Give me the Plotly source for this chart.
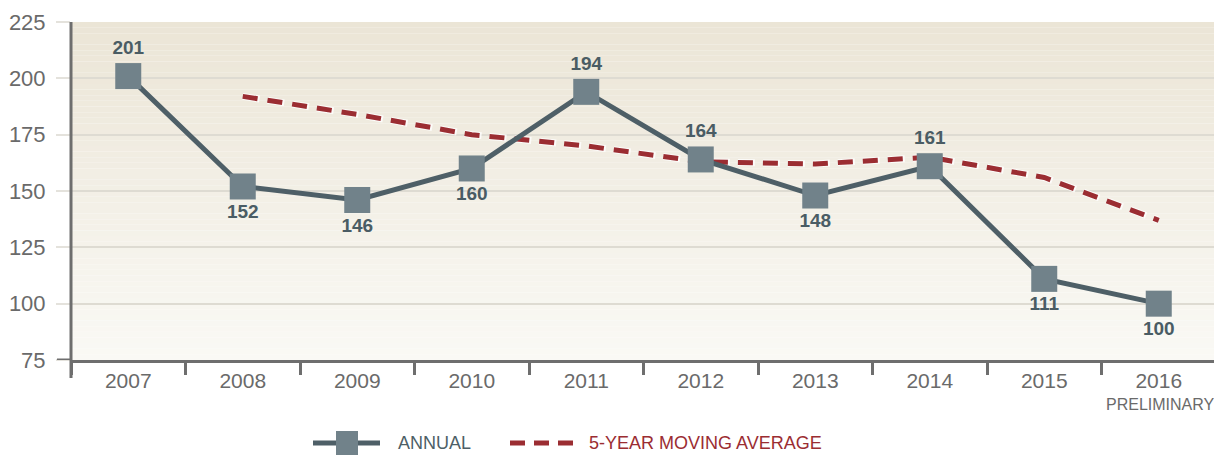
import plotly.graph_objects as go

years = ["2007", "2008", "2009", "2010", "2011", "2012", "2013", "2014", "2015", "2016"]
tick_text = ["2007", "2008", "2009", "2010", "2011", "2012", "2013", "2014", "2015", "2016"]
annual = [201, 152, 146, 160, 194, 164, 148, 161, 111, 100]
label_pos = ["top center", "bottom center", "bottom center", "bottom center", "top center",
             "top center", "bottom center", "top center", "bottom center", "bottom center"]
ma_years = ["2008", "2009", "2010", "2011", "2012", "2013", "2014", "2015", "2016"]
moving_avg = [192, 184, 175, 170, 163, 162, 165, 156, 137]
legend_names = ["ANNUAL", "5-YEAR MOVING AVERAGE"]
sub_label = "PRELIMINARY"

FONT = "Liberation Sans Narrow, Arial Narrow, Liberation Sans, Arial"
RED = "#9b2d32"
SLATE = "#4e5f67"
MARK = "#71828a"
AXIS = "#6e6e6e"

# the page body has an 8px margin: figure is drawn shifted by (8, 8)
OFF = 8
W, H = 1222 - OFF, 458 - OFF
# plot area in reference-pixel coordinates
L, R, T, B = 71, 1216, 22, 360
def px(x):
    return (x - L) / (R - L)
def py(y):
    return (B - y) / (B - T)

fig = go.Figure()

fig.add_trace(go.Scatter(
    x=ma_years, y=moving_avg, mode="lines",
    line=dict(color="rgba(255,255,255,0.8)", width=7, dash="17px,8px"),
    hoverinfo="skip", showlegend=False,
))
fig.add_trace(go.Scatter(
    x=ma_years, y=moving_avg, mode="lines",
    line=dict(color=RED, width=5, dash="15px,10px"),
    name=legend_names[1], showlegend=False,
))
fig.add_trace(go.Scatter(
    x=years, y=annual, mode="lines+markers+text",
    line=dict(color=SLATE, width=5),
    marker=dict(symbol="square", size=26, color=MARK, line=dict(width=0)),
    text=[str(v) for v in annual], textposition=label_pos,
    textfont=dict(family="Liberation Sans, Arial", size=19, color="#4a5c64", weight="bold"),
    name=legend_names[0], showlegend=False,
))

# gradient background stripes
shapes = []
top_c = (235, 229, 214)
bot_c = (250, 249, 245)
n = 60
for i in range(n):
    t = i / (n - 1)
    c = tuple(round(top_c[k] + (bot_c[k] - top_c[k]) * t) for k in range(3))
    shapes.append(dict(type="rect", xref="paper", yref="paper", x0=0, x1=1,
                       y0=1 - (i + 1) / n, y1=1 - i / n,
                       fillcolor=f"rgb{c}", line=dict(width=0), layer="below"))
shapes.append(dict(type="line", xref="paper", yref="y", x0=px(57), x1=0, y0=75, y1=75,
                   line=dict(color=AXIS, width=3), layer="above"))
shapes.append(dict(type="line", xref="paper", yref="paper", x0=0, x1=0, y0=py(378), y1=1,
                   line=dict(color=AXIS, width=3), layer="above"))

# custom legend
ly = py(443)
shapes.append(dict(type="line", xref="paper", yref="paper", x0=px(313), x1=px(380), y0=ly, y1=ly,
                   line=dict(color=SLATE, width=5)))
shapes.append(dict(type="rect", xref="paper", yref="paper", x0=px(336), x1=px(358),
                   y0=py(455), y1=py(431), fillcolor=MARK, line=dict(width=0)))
shapes.append(dict(type="line", xref="paper", yref="paper", x0=px(510), x1=px(573), y0=ly, y1=ly,
                   line=dict(color=RED, width=5, dash="15px,9px")))
annotations = [
    dict(xref="paper", yref="paper", x=px(396), y=ly, xanchor="left", yanchor="middle",
         text=legend_names[0], showarrow=False,
         font=dict(family=FONT, size=18, color=SLATE)),
    dict(xref="paper", yref="paper", x=px(587), y=ly, xanchor="left", yanchor="middle",
         text=legend_names[1], showarrow=False,
         font=dict(family=FONT, size=18, color=RED)),
    dict(xref="paper", yref="paper", x=px(1160), y=py(405), xanchor="center", yanchor="middle",
         text=sub_label, showarrow=False,
         font=dict(family=FONT, size=16, color="#6a6a6a")),
]

fig.update_layout(
    width=W, height=H,
    margin=dict(l=L - OFF, r=1222 - R, t=T - OFF, b=458 - B, autoexpand=False),
    paper_bgcolor="white", plot_bgcolor="rgba(0,0,0,0)",
    shapes=shapes, annotations=annotations,
    showlegend=False,
    font=dict(family=FONT),
)
fig.update_xaxes(
    categoryorder="array", categoryarray=years,
    tickmode="array", tickvals=years, ticktext=tick_text,
    tickson="boundaries", ticks="outside", ticklen=12, tickwidth=3, tickcolor=AXIS,
    showline=True, linecolor=AXIS, linewidth=3, showgrid=False,
    tickfont=dict(family=FONT, size=21, color="#6a6a6a"),
    range=[-0.5, 9.5], automargin=False,
)
fig.update_yaxes(
    range=[75, 225], tickvals=[75, 100, 125, 150, 175, 200, 225],
    showgrid=True, gridcolor="#dedbd2", gridwidth=2,
    ticks="outside", ticklen=14, tickwidth=2, tickcolor="#e4e2dc",
    ticklabelstandoff=6,
    showline=False, zeroline=False,
    tickfont=dict(family=FONT, size=22, color="#6a6a6a"),
    automargin=False,
)

fig.write_html("out.html")
